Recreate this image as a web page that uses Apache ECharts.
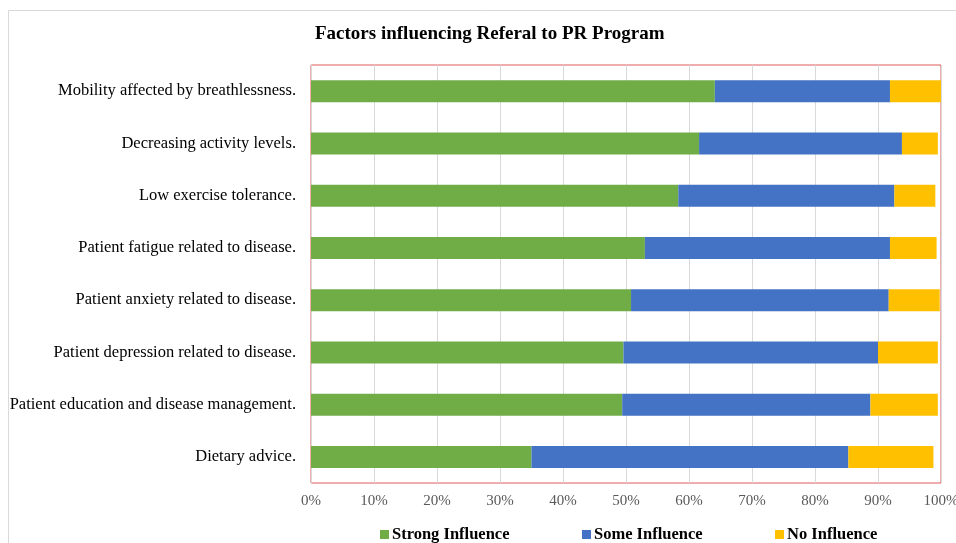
<!DOCTYPE html>
<html lang="en">
<head>
    <meta charset="UTF-8">
    <title>Factors influencing Referal to PR Program</title>
    <script src="https://cdn.jsdelivr.net/npm/echarts@6/dist/echarts.min.js"></script>
    <style>
        html, body { margin: 0; padding: 0; background: #fff; overflow: hidden; }
    </style>
</head>
<body>
<div id="barChart" style="width: 956px;height: 543px;"></div>

<script>
    // categories, top to bottom
    let factors = [
        'Mobility affected by breathlessness.',
        'Decreasing activity levels.',
        'Low exercise tolerance.',
        'Patient fatigue related to disease.',
        'Patient anxiety related to disease.',
        'Patient depression related to disease.',
        'Patient education and disease management.',
        'Dietary advice.'
    ];
    // percentages
    let strongInfluence = [64.1, 61.6, 58.3, 53.0, 50.8, 49.6, 49.4, 35.0];
    let someInfluence = [27.8, 32.2, 34.3, 38.9, 40.9, 40.4, 39.4, 50.3];
    let noInfluence = [8.1, 5.7, 6.5, 7.4, 8.1, 9.5, 10.7, 13.5];
    let xTicks = ['0%', '10%', '20%', '30%', '40%', '50%', '60%', '70%', '80%', '90%', '100%'];

    let serif = "'Liberation Serif', 'Times New Roman', serif";

    let legendItem = function (name, left) {
        return {
            data: [name],
            left: left,
            top: 521,
            icon: 'rect',
            itemWidth: 9,
            itemHeight: 9,
            itemGap: 0,
            textStyle: {fontFamily: serif, fontSize: 16.5, fontWeight: 'bold', color: '#000', padding: [0, 0, 0, -2]}
        };
    };

    let barChartDom = document.getElementById('barChart');
    let myBarChart = echarts.init(barChartDom);

    let barOption = {
        animation: false,
        title: {
            text: 'Factors influencing Referal to PR Program',
            left: 310,
            top: 20,
            textStyle: {fontFamily: serif, fontSize: 19, fontWeight: 'bold', color: '#000'}
        },
        graphic: [{
            type: 'rect',
            shape: {x: 8.5, y: 10.5, width: 1000, height: 600},
            style: {fill: 'none', stroke: '#d9d9d9', lineWidth: 1},
            silent: true
        }],
        legend: [
            legendItem('Strong Influence', 375),
            legendItem('Some Influence', 577),
            legendItem('No Influence', 770)
        ],
        grid: {
            left: 311,
            right: 15,
            top: 65,
            bottom: 60,
            outerBoundsMode: 'none',
            containLabel: false,
            show: true,
            borderColor: '#e05a5a',
            borderWidth: 1
        },
        xAxis: {
            type: 'value',
            min: 0,
            max: 100,
            interval: 10,
            axisLine: {show: false},
            axisTick: {show: false},
            splitLine: {lineStyle: {color: '#d9d9d9'}},
            axisLabel: {
                margin: 11,
                fontFamily: serif,
                fontSize: 15,
                color: '#595959',
                formatter: function (v) {
                    return xTicks[Math.round(v / 10)];
                }
            }
        },
        yAxis: {
            type: 'category',
            inverse: true,
            data: factors,
            axisLine: {show: true, lineStyle: {color: '#d9d9d9'}},
            axisTick: {show: false},
            axisLabel: {
                margin: 15,
                fontFamily: serif,
                fontSize: 16.5,
                color: '#000'
            }
        },
        series: [{
            name: 'Strong Influence',
            type: 'bar',
            stack: 'total',
            barWidth: 22,
            data: strongInfluence,
            itemStyle: {color: '#70AD47'}
        }, {
            name: 'Some Influence',
            type: 'bar',
            stack: 'total',
            barWidth: 22,
            data: someInfluence,
            itemStyle: {color: '#4472C4'}
        }, {
            name: 'No Influence',
            type: 'bar',
            stack: 'total',
            barWidth: 22,
            data: noInfluence,
            itemStyle: {color: '#FFC000'}
        }]
    };
    barOption && myBarChart.setOption(barOption);
</script>
</body>
</html>
